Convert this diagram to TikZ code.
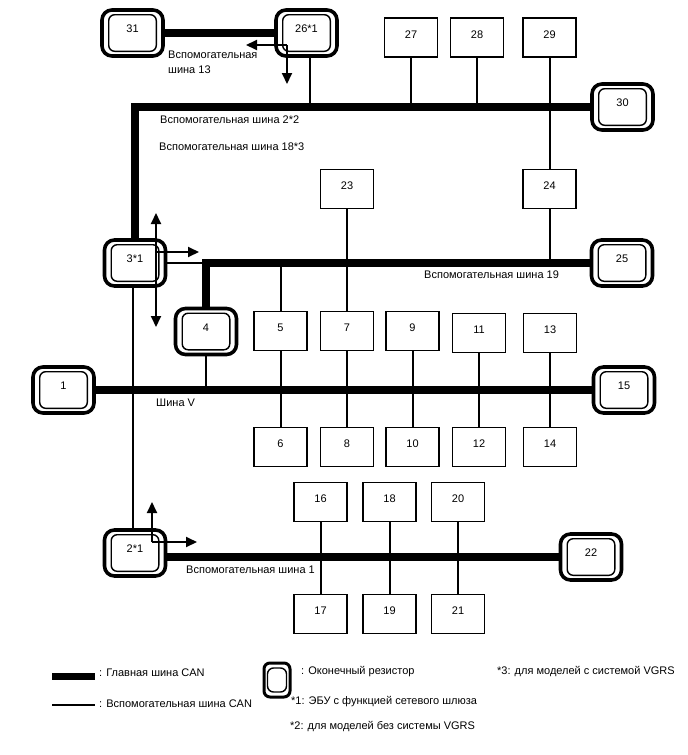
\documentclass[tikz,border=0pt]{standalone}
\usepackage{fontspec}
\setmainfont{Liberation Sans}
\usetikzlibrary{arrows.meta}
\newcommand{\fsz}{\fontsize{11}{15}\selectfont}
\newcommand{\innerframe}[2][8.5pt]{\draw[line width=1.4pt, rounded corners=6pt] ([xshift=#1,yshift=-6.5pt]#2.north west) rectangle ([xshift=-#1,yshift=6.5pt]#2.south east);}
\begin{document}
\begin{tikzpicture}[x=1pt,y=-1pt,
  ecu/.style={draw, line width=1.8pt, minimum width=53pt, minimum height=39pt, inner sep=0pt, font=\fsz, text depth=6pt},
  term/.style={draw, line width=3.6pt, rounded corners=10pt, minimum width=61pt, minimum height=46pt, inner sep=0pt, font=\fsz, text depth=8pt},
  mainbus/.style={line width=8.5pt},
  subbus/.style={line width=2pt},
  arr/.style={line width=2pt, -{Triangle[length=11pt,width=10pt]}},
  darr/.style={line width=2pt, {Triangle[length=11pt,width=10pt]}-{Triangle[length=11pt,width=10pt]}},
  lbl/.style={anchor=west, inner sep=0pt, font=\fsz, text height=7.5pt, text depth=2pt},
]
\useasboundingbox (0,0) rectangle (688,755);

% terminators
\node[term] (t31) at (132.5,33) {31};
\node[term] (t26) at (306.5,33) {26*1};
\node[term] (t30) at (622.5,107) {30};
\node[term] (t3) at (135,263) {3*1};
\node[term] (t25) at (622,263) {25};
\node[term] (t4) at (206,331.5) {4};
\node[term] (t1) at (63.5,390) {1};
\node[term] (t15) at (624,390) {15};
\node[term] (t2) at (135,553) {2*1};
\node[term] (t22) at (591,557) {22};
\foreach \t in {t31,t26,t30,t3,t25,t4,t1,t15,t2,t22} {\innerframe{\t}}

% ECUs
\node[ecu] (n27) at (411,37.5) {27};
\node[ecu] (n28) at (477,37.5) {28};
\node[ecu] (n29) at (549.5,37.5) {29};
\node[ecu] (n23) at (347,189) {23};
\node[ecu] (n24) at (549.5,189) {24};
\node[ecu] (n5) at (280.5,331) {5};
\node[ecu] (n7) at (347,331) {7};
\node[ecu] (n9) at (412.5,331) {9};
\node[ecu] (n11) at (479,333) {11};
\node[ecu] (n13) at (550,333) {13};
\node[ecu] (n6) at (280.5,447) {6};
\node[ecu] (n8) at (347,447) {8};
\node[ecu] (n10) at (412.5,447) {10};
\node[ecu] (n12) at (479,447) {12};
\node[ecu] (n14) at (550,447) {14};
\node[ecu] (n16) at (320.5,502) {16};
\node[ecu] (n18) at (389.5,502) {18};
\node[ecu] (n20) at (458,502) {20};
\node[ecu] (n17) at (320.5,614) {17};
\node[ecu] (n19) at (389.5,614) {19};
\node[ecu] (n21) at (458,614) {21};

% main buses
\draw[mainbus] (t31.east) -- (t26.west);
\draw[mainbus] (t3.north) -- (135,107) -- (t30.west);
\draw[mainbus] (t25.west) -- (206,263) -- (t4.north);
\draw[mainbus] (t1.east) -- (t15.west);
\draw[mainbus] ([yshift=-4pt]t2.east) -- (t22.west);

% sub bus lines
\draw[subbus] (t3.east) -- (206,263);
\draw[subbus] ([xshift=3.5pt]t26.south) -- ([xshift=3.5pt]t26.south |- t30.west);
\draw[subbus] (n27.south) -- (n27.south |- t30.west);
\draw[subbus] (n28.south) -- (n28.south |- t30.west);
\draw[subbus] (n29.south) -- (n24.north);
\draw[subbus] (n24.south) -- (n24.south |- t25.west);
\draw[subbus] (n23.south) -- (n7.north);
\draw[subbus] (n5.north) -- (n5.north |- t25.west);
\draw[subbus] (n5.south) -- (n6.north);
\draw[subbus] (n7.south) -- (n8.north);
\draw[subbus] (n9.south) -- (n10.north);
\draw[subbus] (n11.south) -- (n12.north);
\draw[subbus] (n13.south) -- (n14.north);
\draw[subbus] (t4.south) -- (t4.south |- t1.east);
\draw[subbus] ([xshift=-2pt]t3.south) -- ([xshift=-2pt]t2.north);
\draw[subbus] (n16.south) -- (n17.north);
\draw[subbus] (n18.south) -- (n19.north);
\draw[subbus] (n20.south) -- (n21.north);

% gateway arrows
\coordinate (a26) at (287,45);
\coordinate (a26l) at (246,45);
\coordinate (a26d) at (287,84);
\draw[arr] (a26) -- (a26l);
\draw[arr] (a26) -- (a26d);
\coordinate (a3u) at (156,213);
\coordinate (a3d) at (156,327);
\coordinate (a3) at (156,252);
\coordinate (a3r) at (199,252);
\draw[darr] (a3u) -- (a3d);
\draw[arr] (a3) -- (a3r);
\coordinate (a2) at (152,542);
\coordinate (a2u) at (152,502);
\coordinate (a2r) at (197,542);
\draw[arr] (a2) -- (a2u);
\draw[arr] (a2) -- (a2r);

% labels
\node[anchor=north west, inner sep=0pt, font=\fsz, align=left] (l13) at (168,51) {Вспомогательная\\шина 13};
\node[lbl] (l2) at (160,121) {Вспомогательная шина 2*2};
\node[lbl] (l18) at (159,148) {Вспомогательная шина 18*3};
\node[lbl] (l19) at (424,276) {Вспомогательная шина 19};
\node[lbl] (lv) at (156,404) {Шина V};
\node[lbl] (l1) at (186,571) {Вспомогательная шина 1};

% legend
\coordinate (lg1a) at (52,676.5);
\coordinate (lg1b) at (95,676.5);
\draw[line width=7pt] (lg1a) -- (lg1b);
\node[lbl] (lgt1) at (99,674) {: Главная шина CAN};
\coordinate (lg2a) at (52,705);
\coordinate (lg2b) at (95,705);
\draw[subbus] (lg2a) -- (lg2b);
\node[lbl] (lgt2) at (99,705) {: Вспомогательная шина CAN};
\node[draw, line width=3pt, rounded corners=6pt, minimum width=26pt, minimum height=34pt, inner sep=0pt] (lgt) at (277,680) {};
\innerframe[5pt]{lgt}
\node[lbl] (lgt3) at (301,672) {: Оконечный резистор};
\node[lbl] (lgn1) at (291,702) {*1: ЭБУ с функцией сетевого шлюза};
\node[lbl] (lgn2) at (290,727) {*2: для моделей без системы VGRS};
\node[lbl] (lgn3) at (497,672) {*3: для моделей с системой VGRS};
\end{tikzpicture}
\end{document}
